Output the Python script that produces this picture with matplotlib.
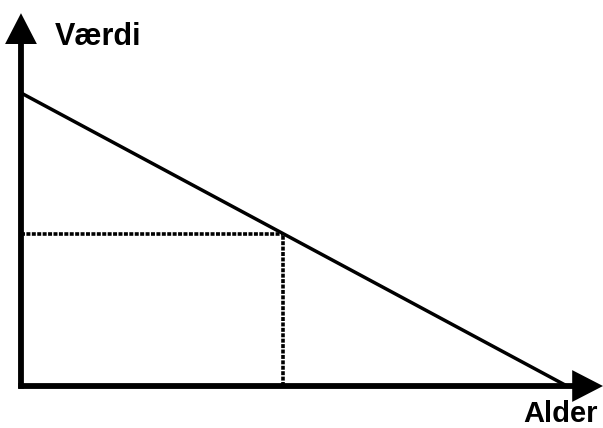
import matplotlib.pyplot as plt

# value falls linearly with age
alder = [0, 10]
vaerdi = [10, 0]
# marked point on the line
punkt_alder = 4.8
punkt_vaerdi = 5.2

plt.rcParams['font.family'] = ['Liberation Sans', 'DejaVu Sans']

fig = plt.figure(figsize=(6.03, 4.28), dpi=100)
ax = fig.add_axes([0.0348, 0.0981, 0.9652, 0.9019])
ax.set_xlim(0, 10.66)
ax.set_ylim(0, 13.17)
ax.axis('off')

# main line
ax.plot(alder, vaerdi, color='black', lw=2.5, solid_capstyle='butt', clip_on=False)

# dotted guides
ax.plot([0, punkt_alder], [punkt_vaerdi, punkt_vaerdi], color='black', lw=2.6,
        ls=(0, (1.1, 0.4)), dash_capstyle='butt')
ax.plot([punkt_alder, punkt_alder], [0, punkt_vaerdi], color='black', lw=2.6,
        ls=(0, (1.1, 0.4)), dash_capstyle='butt')

# axes with arrows
arrow = dict(arrowstyle='-|>,head_length=1.55,head_width=0.8', lw=4.2, color='black',
             shrinkA=0, shrinkB=0, joinstyle='miter', capstyle='butt')
ax.annotate('', xy=(0, 12.72), xytext=(0, -0.09), xycoords='data', arrowprops=arrow,
            annotation_clip=False)
ax.annotate('', xy=(10.66, 0), xytext=(-0.05, 0), xycoords='data', arrowprops=arrow,
            annotation_clip=False)

fig.text(55 / 603, 1 - 45 / 428, 'Værdi', fontsize=22, fontweight='bold',
         ha='left', va='baseline')
fig.text(598 / 603, 1 - 422 / 428, 'Alder', fontsize=21, fontweight='bold',
         ha='right', va='baseline')

plt.savefig('out.png', dpi=100)
